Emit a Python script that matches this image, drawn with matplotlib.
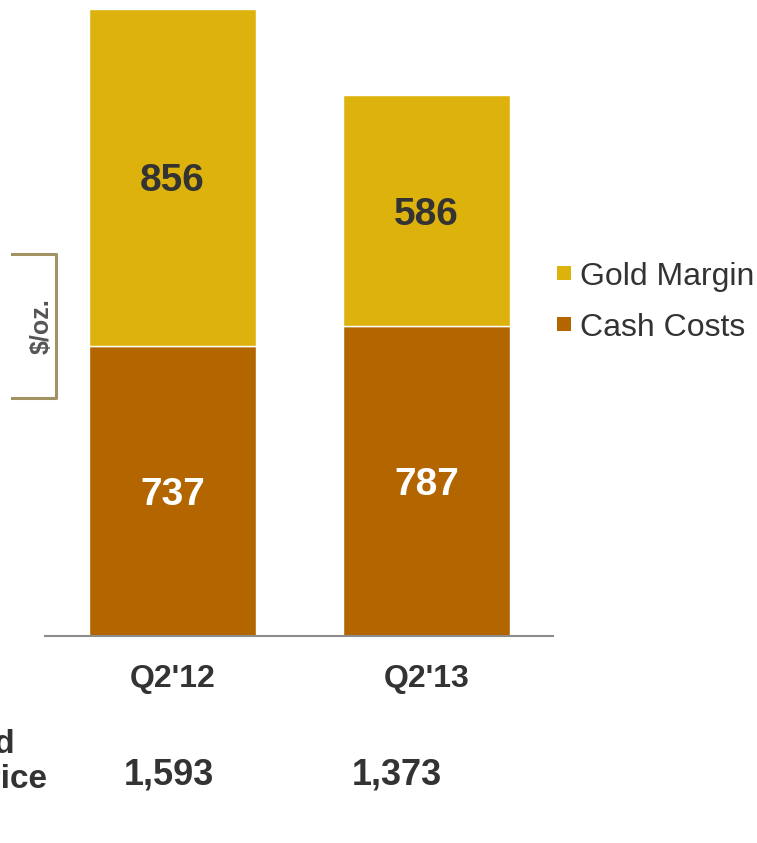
import matplotlib.pyplot as plt
import matplotlib.patches as mpatches
import numpy as np

plt.rcParams['font.family'] = ['Liberation Sans', 'DejaVu Sans']

# data
quarters = ["Q2'12", "Q2'13"]
cash_costs = [737, 787]
gold_margin = [856, 586]
gold_price = ['1,593', '1,373']
legend_labels = ['Gold Margin', 'Cash Costs']

c_margin = '#DDB20C'
c_cash = '#B36500'
txt = '#333333'

W, H = 757, 843
fig = plt.figure(figsize=(W / 100, H / 100), dpi=100)

# axes placed in pixel terms (baseline at y=636, x from 45 to 553)
ax = fig.add_axes([45 / W, (H - 636) / H, (553 - 45) / W, 636 / H])
x = np.arange(len(quarters))
bw = 0.657
b1 = ax.bar(x, cash_costs, bw, color=c_cash, edgecolor='white', linewidth=1)
b2 = ax.bar(x, gold_margin, bw, bottom=cash_costs, color=c_margin, edgecolor='white',
            linewidth=1)
ax.set_xlim(-0.502, 1.498)
ax.set_ylim(0, 1615)

for i in range(len(quarters)):
    ax.text(x[i], cash_costs[i] / 2, str(cash_costs[i]), ha='center',
            va='center_baseline', color='white', fontsize=28, fontweight='bold')
    ax.text(x[i], cash_costs[i] + gold_margin[i] / 2, str(gold_margin[i]), ha='center',
            va='center_baseline', color=txt, fontsize=28, fontweight='bold')

for s in ['top', 'right', 'left']:
    ax.spines[s].set_visible(False)
ax.spines['bottom'].set_color('#8c8c8c')
ax.spines['bottom'].set_linewidth(1.5)
ax.set_yticks([])
ax.set_xticks([])

# category labels and gold price row (below axes)
for i, q in enumerate(quarters):
    xf = (172.5 + 254 * i) / W
    fig.text(xf, 1 - 676 / H, q, ha='center', va='center_baseline', fontsize=23,
             fontweight='bold', color=txt)
for xp, gp in zip([169, 397], gold_price):
    fig.text(xp / W, 1 - 771 / H, gp, ha='center', va='center_baseline', fontsize=26,
             fontweight='bold', color=txt)
fig.text(47 / W, 1 - 762 / H, 'Realized\nGold Price', ha='right', va='center',
         multialignment='left', fontsize=24, fontweight='bold', color=txt)

# $/oz. bracket
bc = '#A39264'
fig.add_artist(plt.Line2D([12 / W, 56 / W, 56 / W, 12 / W],
                          [1 - 254 / H, 1 - 254 / H, 1 - 398 / H, 1 - 398 / H],
                          color=bc, linewidth=2.2))
fig.text(42 / W, 1 - 326 / H, '$/oz.', rotation=90, ha='center', va='center',
         fontsize=18, fontweight='bold', color='#555555')

# legend, drawn by hand
for lab, col, yc in zip(legend_labels, [c_margin, c_cash], [273, 324]):
    fig.add_artist(mpatches.Rectangle((557 / W, 1 - (yc + 7) / H), 14 / W, 14 / H,
                                      facecolor=col, edgecolor='none'))
    fig.text(580 / W, 1 - yc / H, lab, ha='left', va='center_baseline', fontsize=23,
             color=txt)

fig.savefig('out.png', dpi=100)
